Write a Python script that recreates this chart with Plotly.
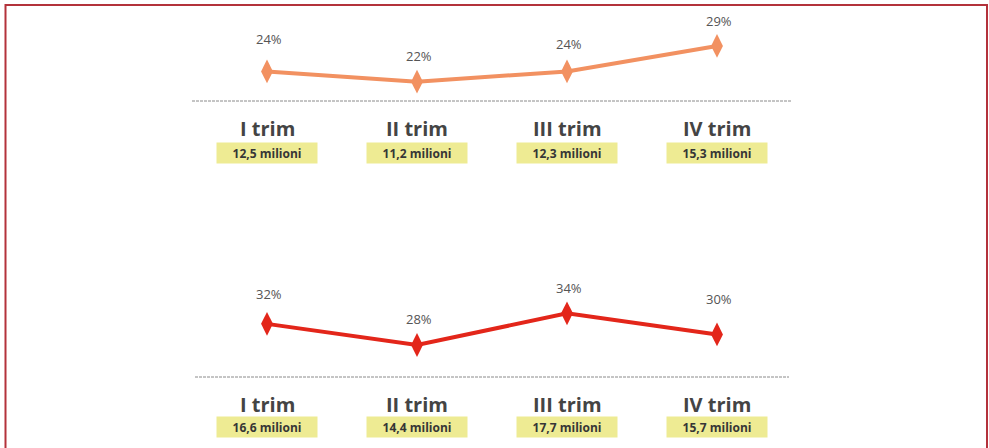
import plotly.graph_objects as go

# Quarterly shares and volumes for the two panels
quarters = ["I trim", "II trim", "III trim", "IV trim"]
share_top = [24, 22, 24, 29]
volume_top = ["12,5 milioni", "11,2 milioni", "12,3 milioni", "15,3 milioni"]
share_bottom = [32, 28, 34, 30]
volume_bottom = ["16,6 milioni", "14,4 milioni", "17,7 milioni", "15,7 milioni"]

# Vertical lift (px) of each percentage label above its point
lift_top = [32, 26, 27, 25]
lift_bottom = [30, 26, 25, 35]

W, H = 989, 448
ORANGE = "#f29161"
RED = "#e3261a"
TEXT = "#444444"
BOX = "#eeeb93"

xs = list(range(len(quarters)))

fig = go.Figure()

fig.add_trace(go.Scatter(
    x=xs, y=share_top, xaxis="x", yaxis="y", mode="lines+markers",
    line=dict(color=ORANGE, width=4),
    marker=dict(symbol="diamond-tall", size=17, color=ORANGE),
    hoverinfo="skip", showlegend=False,
))
fig.add_trace(go.Scatter(
    x=xs, y=share_bottom, xaxis="x2", yaxis="y2", mode="lines+markers",
    line=dict(color=RED, width=4),
    marker=dict(symbol="diamond-tall", size=17, color=RED),
    hoverinfo="skip", showlegend=False,
))


def py(pix):
    return 1 - pix / H


annotations = []
for i, q in enumerate(quarters):
    # percentage labels
    annotations.append(dict(
        x=xs[i], y=share_top[i], xref="x", yref="y", text=f"{share_top[i]}%",
        showarrow=False, yshift=lift_top[i], xshift=2,
        font=dict(family="Open Sans", size=13, color="#555555"),
    ))
    annotations.append(dict(
        x=xs[i], y=share_bottom[i], xref="x2", yref="y2", text=f"{share_bottom[i]}%",
        showarrow=False, yshift=lift_bottom[i], xshift=2,
        font=dict(family="Open Sans", size=13, color="#555555"),
    ))
    # quarter names
    for xr, yc in (("x", 128.5), ("x2", 404)):
        annotations.append(dict(
            x=xs[i], y=py(yc), xref=xr, yref="paper", text=f"<b>{q}</b>",
            showarrow=False, yanchor="middle",
            font=dict(family="Open Sans", size=20, color=TEXT),
        ))
    # volume tags
    for xr, yc, vol in (("x", 153, volume_top[i]), ("x2", 427, volume_bottom[i])):
        annotations.append(dict(
            x=xs[i], y=py(yc), xref=xr, yref="paper", text=f"<b>{vol}</b>",
            showarrow=False, yanchor="middle", width=98, height=18,
            bgcolor=BOX, borderpad=1,
            font=dict(family="Open Sans", size=12, color="#363636"),
        ))

shapes = [
    dict(type="line", xref="x", yref="y domain", x0=-0.5, x1=3.5, y0=0, y1=0,
         line=dict(color="#8a8a8a", width=1, dash="3px,1px")),
    dict(type="line", xref="x2", yref="y2 domain", x0=-0.48, x1=3.48, y0=0, y1=0,
         line=dict(color="#8a8a8a", width=1, dash="3px,1px")),
]

# outer frame
L_M, R_M = 192, 197
pw = W - L_M - R_M


def px(pix):
    return (pix - L_M) / pw


shapes.append(dict(
    type="rect", xref="paper", yref="paper",
    x0=px(5.5), x1=px(987), y0=py(5), y1=py(460),
    line=dict(color="#b3323b", width=2), fillcolor="rgba(0,0,0,0)",
))

fig.update_layout(
    width=W, height=H,
    margin=dict(l=L_M, r=R_M, t=0, b=0),
    paper_bgcolor="white", plot_bgcolor="rgba(0,0,0,0)",
    xaxis=dict(range=[-0.5, 3.5], visible=False, fixedrange=True),
    xaxis2=dict(range=[-0.5, 3.5], visible=False, fixedrange=True),
    yaxis=dict(range=[18.2, 36.06], domain=[py(101), py(10)], visible=False, fixedrange=True),
    yaxis2=dict(range=[21.94, 42.2], domain=[py(377), py(270)], visible=False, fixedrange=True),
    annotations=annotations,
    shapes=shapes,
)

fig.write_html("out.html", config={"displayModeBar": False})
